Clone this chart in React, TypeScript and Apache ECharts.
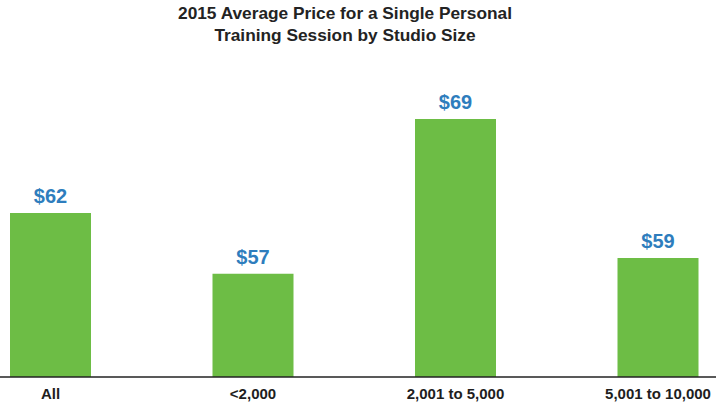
import React, { useEffect, useRef } from "react";
import * as echarts from "echarts";

const categories = ["All", "<2,000", "2,001 to 5,000", "5,001 to 10,000"];
const prices = [62.0, 57.4, 69.1, 58.6];
const titleLines = ["2015 Average Price for a Single Personal", "Training Session by Studio Size"];

const FONT = "'Liberation Sans', Arial, Helvetica, sans-serif";

export default function App() {
  const ref = useRef<HTMLDivElement>(null);
  useEffect(() => {
    if (!ref.current) return;
    const chart = echarts.init(ref.current, null, { renderer: "svg" });
    chart.setOption({
      animation: false,
      backgroundColor: "#ffffff",
      title: {
        text: titleLines.join("\n"),
        left: 345,
        top: 2,
        padding: 0,
        textAlign: "center",
        textStyle: {
          fontFamily: FONT,
          fontSize: 17.3,
          fontWeight: "bold",
          color: "#232323",
          lineHeight: 22,
        },
      },
      grid: { left: 50.5, right: 58, top: 107, bottom: 33 },
      xAxis: {
        type: "category",
        data: categories,
        boundaryGap: false,
        axisLine: { show: false },
        axisTick: { show: false },
        axisLabel: {
          interval: 0,
          showMinLabel: true,
          showMaxLabel: true,
          margin: 9,
          fontFamily: FONT,
          fontSize: 15,
          fontWeight: "bold",
          color: "#1e1e1e",
        },
      },
      yAxis: {
        type: "value",
        min: 49.6,
        max: 70,
        show: false,
        splitLine: { show: false },
      },
      series: [
        {
          type: "bar",
          data: prices,
          barWidth: 81,
          itemStyle: { color: "#6dbd45" },
          label: {
            show: true,
            position: "top",
            distance: 7,
            formatter: (p: any) => "$" + Math.round(p.value),
            fontFamily: FONT,
            fontSize: 20,
            fontWeight: "bold",
            color: "#2e7dbd",
          },
        },
      ],
      graphic: [
        {
          type: "line",
          shape: { x1: 0, y1: 377, x2: 716, y2: 377 },
          style: { stroke: "#222222", lineWidth: 1.5 },
          z: 10,
        },
      ],
    });
    return () => chart.dispose();
  }, []);
  return <div ref={ref} style={{ width: 716, height: 410, position: "absolute", left: 0, top: 0 }} />;
}
